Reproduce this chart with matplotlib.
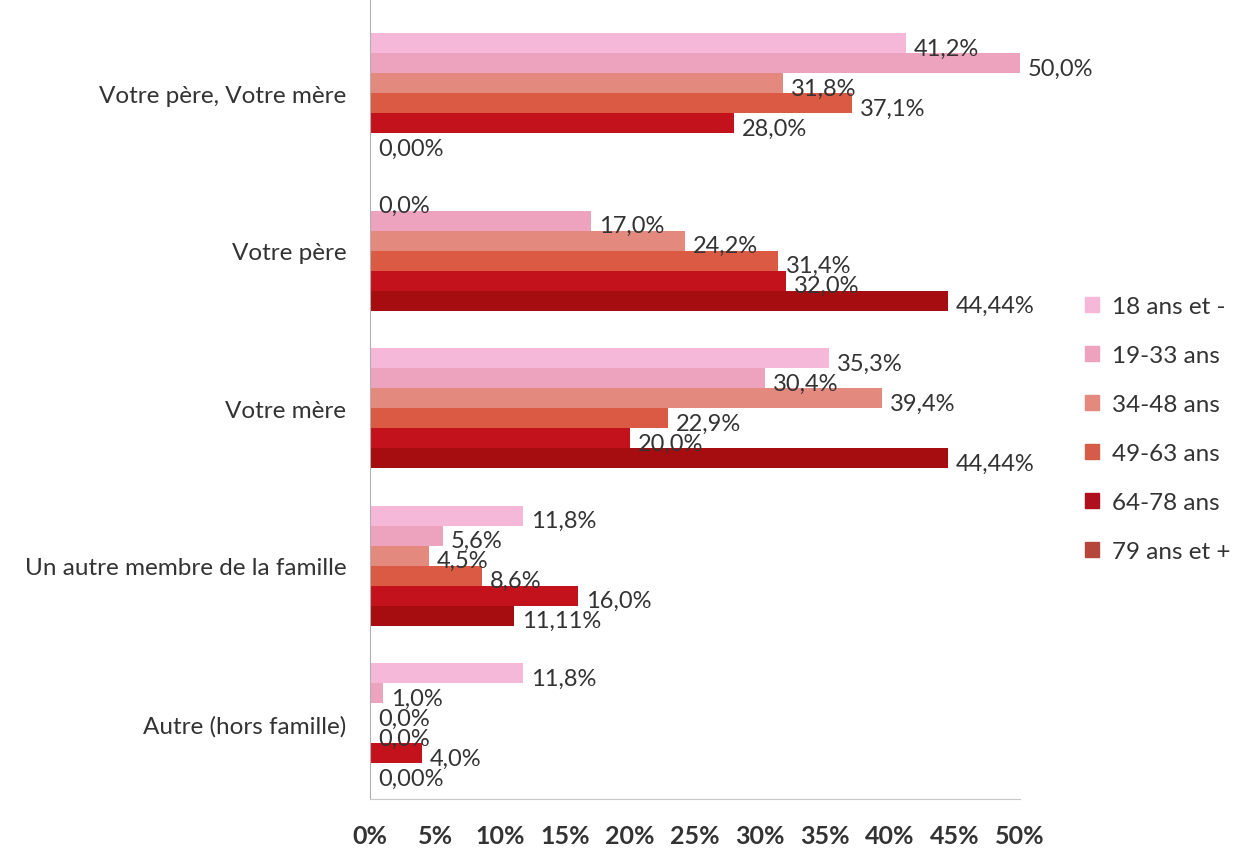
import numpy as np
import matplotlib.pyplot as plt

# categories (top to bottom) and age groups
categories = ["Votre père, Votre mère", "Votre père", "Votre mère",
              "Un autre membre de la famille", "Autre (hors famille)"]
groups = ["18 ans et -", "19-33 ans", "34-48 ans", "49-63 ans", "64-78 ans", "79 ans et +"]

# values per age group, in category order
v_18 = [41.2, 0.0, 35.3, 11.8, 11.8]
v_19 = [50.0, 17.0, 30.4, 5.6, 1.0]
v_34 = [31.8, 24.2, 39.4, 4.5, 0.0]
v_49 = [37.1, 31.4, 22.9, 8.6, 0.0]
v_64 = [28.0, 32.0, 20.0, 16.0, 4.0]
v_79 = [0.0, 44.44, 44.44, 11.11, 0.0]

labels_18 = ["41,2%", "0,0%", "35,3%", "11,8%", "11,8%"]
labels_19 = ["50,0%", "17,0%", "30,4%", "5,6%", "1,0%"]
labels_34 = ["31,8%", "24,2%", "39,4%", "4,5%", "0,0%"]
labels_49 = ["37,1%", "31,4%", "22,9%", "8,6%", "0,0%"]
labels_64 = ["28,0%", "32,0%", "20,0%", "16,0%", "4,0%"]
labels_79 = ["0,00%", "44,44%", "44,44%", "11,11%", "0,00%"]

ticks = [0, 5, 10, 15, 20, 25, 30, 35, 40, 45, 50]
tick_labels = ["0%", "5%", "10%", "15%", "20%", "25%", "30%", "35%", "40%", "45%", "50%"]

series = [v_18, v_19, v_34, v_49, v_64, v_79]
series_labels = [labels_18, labels_19, labels_34, labels_49, labels_64, labels_79]
colors = ["#f5b8d8", "#eda2be", "#e3897e", "#da5a44", "#c4121c", "#a50d10"]
legend_colors = ["#f5b8d8", "#eda2be", "#e3897e", "#d55c48", "#b0101e", "#b5463c"]

txt = "#333333"
plt.rcParams['font.family'] = ['Lato', 'DejaVu Sans']

fig = plt.figure(figsize=(12.44, 8.53), dpi=100)
ax = fig.add_axes([370 / 1244, 1 - 800 / 853, 650 / 1244, 800 / 853])

h = 0.127
y0 = np.arange(len(categories))
for j, (vals, labs) in enumerate(zip(series, series_labels)):
  ys = y0 - 2.5 * h + j * h
  ax.barh(ys, vals, height=h, color=colors[j], label=groups[j])
  for y, v, s in zip(ys, vals, labs):
    ax.text(v + 0.6, y + 0.03, s, va='center', ha='left', fontsize=17, color=txt)

ax.set_ylim(4.48, -0.6)
ax.set_xlim(0, 50)
ax.set_xticks(ticks)
ax.set_xticklabels(tick_labels, fontsize=18, fontweight='bold', color=txt)
ax.set_yticks(y0)
ax.set_yticklabels(categories, fontsize=17.5, color=txt)
ax.tick_params(axis='x', length=0, pad=18)
ax.tick_params(axis='y', length=0, pad=17)
for s in ['top', 'right']:
  ax.spines[s].set_visible(False)
ax.spines['left'].set_color('#b0b0b0')
ax.spines['bottom'].set_color('#c8c8c8')

handles = [plt.Rectangle((0, 0), 1, 1, color=c) for c in legend_colors]
fig.legend(handles, groups, loc='center left', bbox_to_anchor=(1063 / 1244, 1 - 430 / 853),
           frameon=False, fontsize=17.5, labelcolor=txt, handlelength=0.6, handleheight=0.6,
           labelspacing=1.15, handletextpad=0.5)

fig.savefig("out.png", dpi=100)
